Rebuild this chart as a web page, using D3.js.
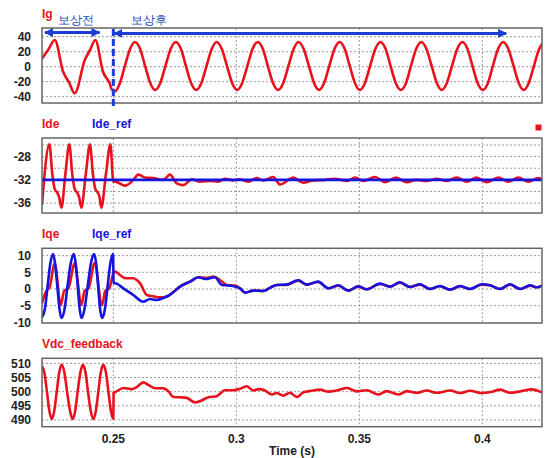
<!DOCTYPE html>
<html><head><meta charset="utf-8">
<script src="https://cdn.jsdelivr.net/npm/d3@7"></script>
<style>
html,body{margin:0;padding:0;background:#fff;}
text{font-family:"Liberation Sans",Arial,sans-serif;font-weight:bold;}
</style></head>
<body><svg id="c" width="546" height="458"></svg>
<script>
// ---------- data ----------
const xTicks = [0.25, 0.3, 0.35, 0.4];
const xTickLabels = ["0.25", "0.3", "0.35", "0.4"];

const igT = [0.2210,0.2236,0.2262,0.2296,0.2320,0.2343,0.2384,0.2405,0.2427,0.2458,0.2485,0.2495,
  0.2507,0.2527,0.2547,0.2568,0.2588,0.2609,0.2629,0.2650,0.2670,0.2691,0.2712,0.2733,0.2754,0.2775,0.2795,
  0.2816,0.2837,0.2858,0.2879,0.2900,0.2920,0.2941,0.2962,0.2983,0.3003,0.3024,0.3045,0.3066,0.3087,0.3108,
  0.3128,0.3149,0.3170,0.3191,0.3212,0.3233,0.3253,0.3274,0.3295,0.3316,0.3336,0.3357,0.3378,0.3399,0.3420,
  0.3441,0.3461,0.3482,0.3502,0.3523,0.3544,0.3565,0.3586,0.3607,0.3627,0.3648,0.3669,0.3690,0.3710,0.3731,
  0.3752,0.3773,0.3794,0.3815,0.3835,0.3856,0.3877,0.3898,0.3919,0.3940,0.3960,0.3981,0.4002,0.4023,0.4043,
  0.4064,0.4085,0.4106,0.4127,0.4148,0.4168,0.4189,0.4210,0.4231,0.4252];
const igV = [11,23,35.6,-6.7,-21,-35.5,9,22,35.6,-6.7,-22,-31,
  -33,-21.6,1,23.6,33,23.6,1,-21.6,-31,-21.6,1,23.6,33,23.6,1,
  -21.6,-31,-21.6,1,23.6,33,23.6,1,-21.6,-31,-21.6,1,23.6,33,23.6,
  1,-21.6,-31,-21.6,1,23.6,33,23.6,1,-21.6,-31,-21.6,1,23.6,33,
  23.6,1,-21.6,-31,-21.6,1,23.6,33,23.6,1,-21.6,-31,-21.6,1,23.6,
  33,23.6,1,-21.6,-31,-21.6,1,23.6,33,23.6,1,-21.6,-31,-21.6,1,
  23.6,33,23.6,1,-21.6,-31,-21.6,1,23.6,33];
const igTicks = [40,20,0,-20,-40];

const ideT = [0.2210,0.2240,0.2252,0.2262,0.2272,0.2280,0.2289,0.2305,0.2321,0.2333,0.2343,0.2353,0.2361,0.2370,
  0.2388,0.2405,0.2417,0.2427,0.2437,0.2444,0.2451,0.2470,0.2488,0.2500,
  0.2507,0.2548,0.2581,0.2602,0.2629,0.2663,0.2703,0.2730,0.2758,0.2785,0.2819,0.2852,
  0.2893,0.2927,0.2954,0.2988,0.3015,0.3049,0.3083,0.3110,
  0.3150,0.3178,0.3232,0.3272,0.3313,0.3361,0.3401,0.3449,0.3483,0.3516,
  0.3564,0.3604,0.3649,0.3693,0.3733,0.3774,0.3815,0.3855,0.3896,0.3937,
  0.3977,0.4018,0.4065,0.4106,0.4146,0.4187,0.4228,0.4243];
const ideV = [-36.3,-25.9,-31,-33.6,-34.2,-35,-36.8,-31,-25.9,-31,-33.6,-34.2,-35,-36.8,
  -31,-25.9,-31,-33.6,-34.2,-35,-36.8,-31,-25.9,-32.3,
  -32.3,-33.0,-32.0,-31.1,-31.6,-31.7,-32.0,-31.1,-32.6,-32.9,-31.9,-32.3,
  -32.2,-32.3,-31.8,-32.1,-31.9,-32.3,-31.7,-32.1,
  -31.5,-32.8,-31.6,-32.5,-32.1,-32.0,-31.8,-32.2,-31.6,-32.2,
  -31.5,-32.4,-31.6,-32.4,-32.0,-32.2,-31.8,-32.2,-31.6,-32.3,
  -31.6,-32.4,-31.6,-32.3,-31.6,-32.3,-31.7,-31.9];
const ideRefT = [0.2210, 0.4243];
const ideRefV = [-32, -32];
const ideGrid = [-26,-28,-30,-32,-34,-36];
const ideTicks = [-28,-32,-36];

const iqeT = [0.2210,0.2228,0.2240,0.2262,0.2286,0.2300,0.2318,0.2343,0.2370,0.2383,
  0.2400,0.2424,0.2454,0.2467,0.2484,0.2500,0.2507,0.2527,0.2548,0.2581,
  0.2595,0.2609,0.2636,0.2663,0.2690,0.2717,0.2737,0.2771,0.2812,0.2846,
  0.2880,0.2907,0.2934,0.2961,0.2995,0.3015,0.3036,0.3069,0.3110,0.3140,
  0.3164,0.3202,0.3252,0.3286,0.3333,0.3374,0.3415,0.3455,0.3496,0.3530,
  0.3584,0.3625,0.3665,0.3706,0.3747,0.3787,0.3828,0.3869,0.3909,0.3950,
  0.3998,0.4031,0.4072,0.4113,0.4154,0.4195,0.4221,0.4243];
const iqeV = [-4.3,-0.5,0.3,7.7,-4.8,-0.6,0.3,7.7,-4.8,-0.6,
  0.3,7.7,-4.8,-0.6,0.3,4.7,5.2,4.2,3.2,3.2,
  2.7,1.7,-1.8,-2.2,-2.5,-2.3,-1.3,0.7,2.2,3.5,
  3.3,3.7,2.7,1.2,1.0,0.2,-1.1,-0.5,-0.6,0.5,
  1.2,1.2,2.5,1.3,2.1,0.2,1.0,-0.5,0.7,-0.1,
  1.5,0.7,1.9,0.6,1.3,0,0.8,-0.2,0.8,0,
  1.3,1.1,0,1.3,0,1.0,0.5,1.0];
const iqeRefT = [0.2210,0.2222,0.2233,0.2244,0.2255,0.2263,0.2272,0.2281,0.2289,0.2302,
  0.2314,0.2327,0.2339,0.2347,0.2355,0.2363,0.2370,0.2383,0.2396,0.2409,
  0.2422,0.2430,0.2438,0.2446,0.2454,0.2466,0.2477,0.2488,0.2499,
  0.2501,0.2507,0.2541,0.2581,0.2622,
  0.2649,0.2676,0.2703,0.2730,0.2771,0.2812,0.2846,0.2873,0.2913,0.2941,
  0.2975,0.3015,0.3036,0.3069,0.3110,0.3140,
  0.3164,0.3202,0.3252,0.3286,0.3333,0.3374,0.3415,0.3455,0.3496,0.3530,
  0.3584,0.3625,0.3665,0.3706,0.3747,0.3787,0.3828,0.3869,0.3909,0.3950,
  0.3998,0.4031,0.4072,0.4113,0.4154,0.4195,0.4221,0.4243];
const iqeRefV = [-8.5,-5.9,1,7.7,10.5,7.7,1,-5.9,-8.7,-5.9,
  1,7.7,10.5,7.7,1,-5.9,-8.7,-5.9,1,7.7,
  10.5,7.7,1,-5.9,-8.7,-5.9,1,7.7,10.5,
  1.7,1.7,0.2,-1.8,-3.8,
  -3.0,-3.3,-2.7,-1.8,0.7,2.2,3.5,3.0,3.5,1.2,
  1.0,0.2,-1.1,-0.5,-0.6,0.5,
  1.2,1.3,2.6,1.3,2.2,0.2,1.1,-0.5,0.8,-0.1,
  1.6,0.7,2.0,0.6,1.4,0,0.9,-0.2,0.9,0,
  1.4,1.1,0,1.4,0,1.1,0.5,1.0];
const iqeGrid = [10,5,0,-5];
const iqeTicks = [10,5,0,-5,-10];

const vdcT = [0.2210,0.2220,0.2230,0.2240,0.2250,0.2260,0.2270,0.2280,0.2290,0.2301,
  0.2312,0.2324,0.2335,0.2345,0.2355,0.2366,0.2376,0.2387,0.2397,0.2408,
  0.2419,0.2429,0.2439,0.2449,0.2459,0.2470,0.2480,0.2490,0.2500,
  0.2501,0.2507,0.2541,0.2575,0.2595,
  0.2622,0.2642,0.2670,0.2703,0.2724,0.2744,0.2771,0.2798,0.2832,0.2859,
  0.2886,0.2920,0.2954,0.2988,0.3015,0.3042,0.3069,0.3090,0.3110,0.3144,
  0.3164,0.3191,0.3218,0.3246,0.3273,0.3300,0.3340,0.3375,0.3408,0.3451,
  0.3489,0.3530,0.3577,0.3611,0.3659,0.3693,0.3733,0.3774,0.3815,0.3869,
  0.3909,0.3950,0.3998,0.4035,0.4072,0.4113,0.4154,0.4201,0.4241];
const vdcV = [509.0,506.6,500,493.2,490.3,493.2,500,506.8,509.5,506.8,
  500,493.2,490.3,493.2,500,506.8,509.5,506.8,500,493.2,
  490.3,493.2,500,506.8,509.5,506.8,500,493.2,490.4,
  499.6,499.8,501.3,500.9,501.6,
  503.3,502.4,501.2,501.2,500.1,498.1,498.0,497.8,496.2,496.9,
  498.0,498.4,500.5,500.5,501.0,501.9,500.4,500.9,500.7,499.0,
  499.5,498.6,499.6,498.1,499.8,500.2,500.7,500.0,500.4,501.3,
  500.1,500.5,499.0,500.2,499.0,500.2,499.6,500.4,499.6,500.4,
  499.5,500.3,499.5,499.9,500.7,499.6,500.1,500.8,499.8];
const vdcTicks = [510,505,500,495,490];

// annotation (time units / Ig units)
const switchTime = 0.25;
const beforeSpan = [0.2222, 0.2444];
const afterSpan = [0.2500, 0.4097];
const arrowLevel = 45.5;
const beforeLabel = "보상전", afterLabel = "보상후";

// ---------- drawing ----------
const RED = "#e8121c", BLUE = "#1414e0", ANN = "#1c3cd8";
const svg = d3.select("#c");
const X0 = 42, X1 = 542;
const x = d3.scaleLinear().domain([0.2210, 0.42427]).range([X0, X1]);

const panels = [
  {top:28, bottom:103, dom:[-48.4,51.6], grid:igTicks, ticks:igTicks,
   titles:[{t:"Ig", c:RED, dx:0}], base:18,
   series:[{t:igT, v:igV, c:RED}]},
  {top:138, bottom:213, dom:[-37.7,-24.8], grid:ideGrid, ticks:ideTicks,
   titles:[{t:"Ide", c:RED, dx:0},{t:"Ide_ref", c:BLUE, dx:50}], base:128,
   series:[{t:ideT, v:ideV, c:RED},{t:ideRefT, v:ideRefV, c:BLUE}]},
  {top:248.3, bottom:323, dom:[-10.2,12.2], grid:iqeGrid, ticks:iqeTicks,
   titles:[{t:"Iqe", c:RED, dx:0},{t:"Iqe_ref", c:BLUE, dx:50}], base:238,
   series:[{t:iqeT, v:iqeV, c:RED},{t:iqeRefT, v:iqeRefV, c:BLUE}]},
  {top:358.3, bottom:426.7, dom:[487.6,511.8], grid:vdcTicks, ticks:vdcTicks,
   titles:[{t:"Vdc_feedback", c:RED, dx:0}], base:348,
   series:[{t:vdcT, v:vdcV, c:RED}]}
];

const defs = svg.append("defs");
defs.append("marker").attr("id","ah").attr("viewBox","0 0 10 10")
  .attr("refX",9).attr("refY",5).attr("markerUnits","userSpaceOnUse")
  .attr("markerWidth",9).attr("markerHeight",9).attr("orient","auto-start-reverse")
  .append("path").attr("d","M0,0 L10,5 L0,10 Z").attr("fill",ANN);

let igY = null;
panels.forEach((p, i) => {
  const y = d3.scaleLinear().domain(p.dom).range([p.bottom, p.top]);
  if (i === 0) igY = y;
  const g = svg.append("g");
  defs.append("clipPath").attr("id","clip"+i).append("rect")
    .attr("x",X0).attr("y",p.top).attr("width",X1-X0).attr("height",p.bottom-p.top);
  g.selectAll("line.hg").data(p.grid).join("line")
    .attr("x1",X0).attr("x2",X1).attr("y1",d=>y(d)).attr("y2",d=>y(d))
    .attr("stroke","#9a9a9a").attr("stroke-width",1).attr("stroke-dasharray","2,2");
  g.selectAll("line.vg").data(xTicks).join("line")
    .attr("x1",d=>x(d)).attr("x2",d=>x(d)).attr("y1",p.top).attr("y2",p.bottom)
    .attr("stroke","#9a9a9a").attr("stroke-width",1).attr("stroke-dasharray","2,2");
  g.selectAll("text.yt").data(p.ticks).join("text")
    .attr("x",31).attr("y",d=>y(d)).attr("dy","0.36em").attr("text-anchor","end")
    .attr("font-size",12).attr("fill","#222").text(d=>d);
  p.titles.forEach(tt => {
    g.append("text").attr("x",X0+tt.dx).attr("y",p.base).attr("font-size",12)
      .attr("fill",tt.c).text(tt.t);
  });
  const lg = g.append("g").attr("clip-path",`url(#clip${i})`);
  p.series.forEach(s => {
    const pts = s.t.map((t,k)=>[t, s.v[k]]);
    lg.append("path").datum(pts)
      .attr("d", d3.line().x(d=>x(d[0])).y(d=>y(d[1])).curve(d3.curveMonotoneX))
      .attr("fill","none").attr("stroke",s.c).attr("stroke-width",2.6)
      .attr("stroke-linejoin","round");
  });
  g.append("rect").attr("x",X0).attr("y",p.top).attr("width",X1-X0).attr("height",p.bottom-p.top)
    .attr("fill","none").attr("stroke","#666").attr("stroke-width",1.5);
});

svg.selectAll("text.xt").data(xTicks).join("text")
  .attr("x",d=>x(d)).attr("y",443).attr("text-anchor","middle")
  .attr("font-size",12).attr("fill","#222").text((d,i)=>xTickLabels[i]);
svg.append("text").attr("x",(X0+X1)/2).attr("y",455).attr("text-anchor","middle")
  .attr("font-size",12).attr("fill","#222").text("Time (s)");

svg.append("rect").attr("x",535.5).attr("y",124.5).attr("width",6).attr("height",6).attr("fill",RED);

const ay = igY(arrowLevel);
svg.append("line").attr("x1",x(beforeSpan[0])).attr("x2",x(beforeSpan[1])).attr("y1",ay).attr("y2",ay)
  .attr("stroke",ANN).attr("stroke-width",3)
  .attr("marker-start","url(#ah)").attr("marker-end","url(#ah)");
svg.append("line").attr("x1",x(afterSpan[0])+1).attr("x2",x(afterSpan[1])).attr("y1",ay+0.8).attr("y2",ay+0.8)
  .attr("stroke",ANN).attr("stroke-width",3)
  .attr("marker-start","url(#ah)").attr("marker-end","url(#ah)");
svg.append("line").attr("x1",x(switchTime)).attr("x2",x(switchTime)).attr("y1",igY(51.6)+1).attr("y2",106)
  .attr("stroke",ANN).attr("stroke-width",3).attr("stroke-dasharray","7,3");
svg.append("text").attr("x",x(beforeSpan[0])+13).attr("y",24)
  .attr("font-family","'Noto Sans CJK KR',sans-serif").style("font-weight","500")
  .attr("font-size",12).attr("fill","#2a4bb8").text(beforeLabel);
svg.append("text").attr("x",x(afterSpan[0])+18).attr("y",24)
  .attr("font-family","'Noto Sans CJK KR',sans-serif").style("font-weight","500")
  .attr("font-size",12).attr("fill","#2a4bb8").text(afterLabel);
</script></body></html>
